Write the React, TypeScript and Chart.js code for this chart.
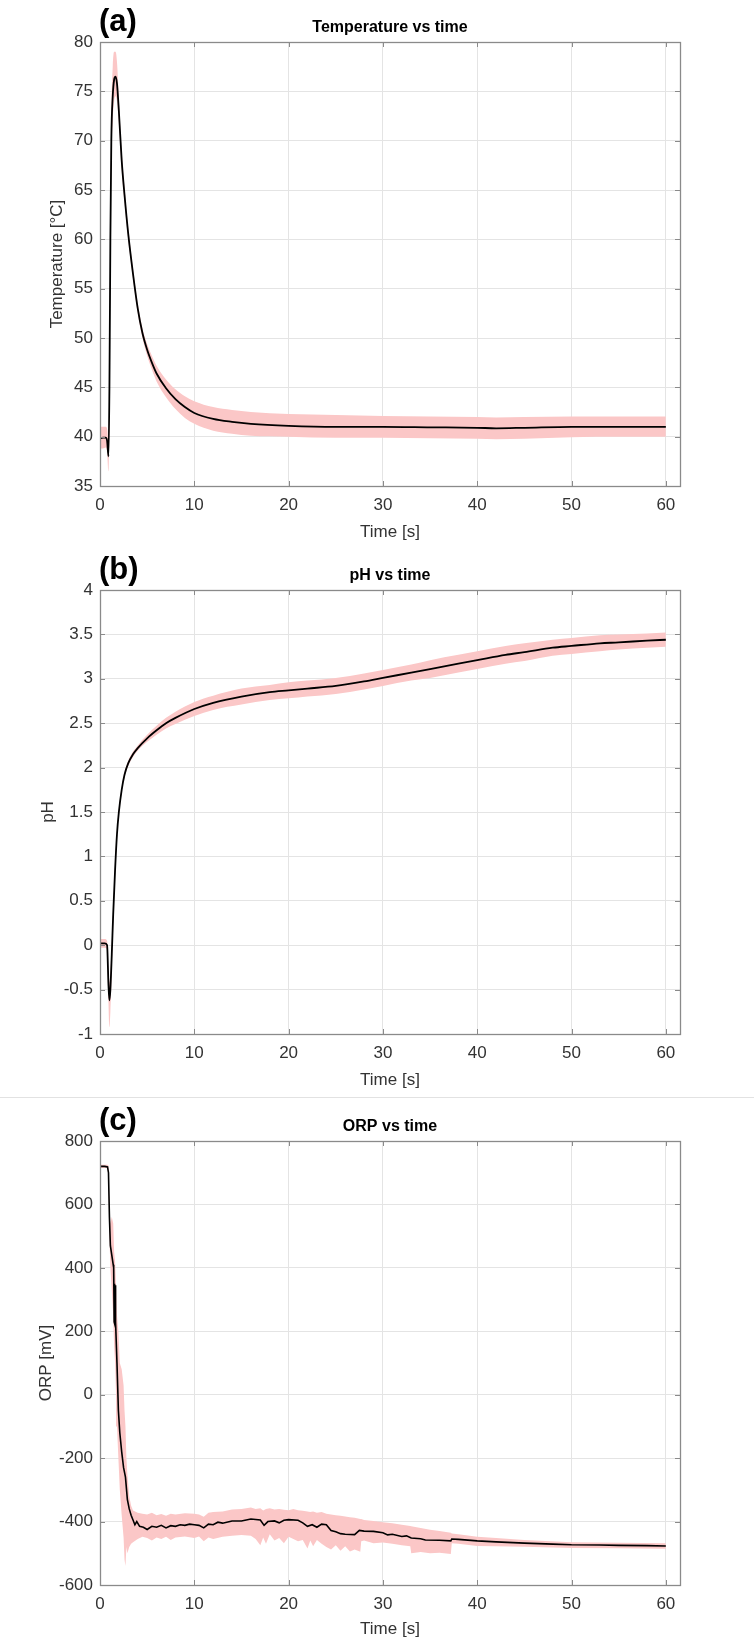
import React, { useEffect, useRef } from "react";
import { Chart, registerables } from "chart.js";

Chart.register(...registerables);

const FONT = '"Liberation Sans", Arial, Helvetica, sans-serif';
const BAND = "#fbc7c7";
const TEXT = "#333333";

// ---------- shared x axis ----------
const xTicks = [0, 10, 20, 30, 40, 50, 60];
const xMax = 61.5;

// ---------- (a) temperature ----------
const tempTicks = [35, 40, 45, 50, 55, 60, 65, 70, 75, 80];
const tempTime = [0, 0.3, 0.6, 0.75, 0.9, 1.0, 1.1, 1.2, 1.35, 1.5, 1.65, 1.8, 2.0, 2.3, 2.6, 3.0, 3.5, 4.0, 4.5, 5.0, 5.5, 6, 7, 8, 9, 10, 12, 14, 16, 20, 25, 30, 35, 40, 42, 45, 50, 55, 60];
const tempMean = [39.8, 39.9, 39.9, 39.6, 38.0, 45, 60, 70, 74.5, 76.2, 76.5, 75.8, 73, 68, 64.5, 60.5, 56.5, 53, 50.5, 48.8, 47.5, 46.4, 44.9, 43.8, 43.0, 42.4, 41.8, 41.5, 41.3, 41.1, 41.0, 41.0, 40.95, 40.9, 40.85, 40.9, 41.0, 41.0, 41.0];
const tempUpper = [41.0, 41.0, 41.0, 40.8, 39.3, 46.5, 62, 72.5, 77.5, 79.0, 79.0, 78.0, 74.2, 69, 65.3, 61.1, 57.0, 53.5, 51.0, 49.4, 48.2, 47.2, 45.8, 44.8, 44.1, 43.6, 43.0, 42.7, 42.5, 42.3, 42.2, 42.1, 42.05, 42.0, 41.95, 42.0, 42.05, 42.05, 42.05];
const tempLower = [38.8, 38.8, 38.9, 38.5, 36.5, 42.5, 57.5, 67.5, 72, 74, 74.5, 74, 71.8, 67, 63.7, 59.9, 56.0, 52.5, 50.0, 48.2, 46.8, 45.6, 44.0, 42.8, 41.9, 41.3, 40.6, 40.3, 40.1, 40.0, 39.9, 39.9, 39.85, 39.8, 39.75, 39.8, 39.95, 40.0, 40.0];

// ---------- (b) pH ----------
const phTicks = [-1, -0.5, 0, 0.5, 1, 1.5, 2, 2.5, 3, 3.5, 4];
const phTime = [0, 0.5, 0.75, 0.9, 1.0, 1.1, 1.25, 1.4, 1.6, 1.8, 2.0, 2.3, 2.6, 3.0, 3.5, 4, 5, 6, 7, 8, 10, 12, 15, 18, 20, 22, 25, 28, 30, 33, 35, 38, 40, 43, 45, 48, 50, 53, 55, 58, 60];
const phMean = [0.02, 0.02, 0.0, -0.45, -0.62, -0.5, -0.1, 0.35, 0.85, 1.25, 1.5, 1.75, 1.92, 2.05, 2.15, 2.22, 2.33, 2.42, 2.5, 2.56, 2.66, 2.73, 2.8, 2.85, 2.87, 2.89, 2.92, 2.97, 3.01, 3.07, 3.11, 3.17, 3.21, 3.27, 3.3, 3.35, 3.37, 3.4, 3.41, 3.43, 3.44];
const phUpper = [0.07, 0.07, 0.05, -0.3, -0.42, -0.3, 0.02, 0.42, 0.9, 1.29, 1.53, 1.78, 1.95, 2.08, 2.18, 2.25, 2.37, 2.47, 2.56, 2.63, 2.74, 2.81, 2.89, 2.93, 2.96, 2.98, 3.01, 3.06, 3.1, 3.16, 3.21, 3.27, 3.31, 3.37, 3.4, 3.44, 3.46, 3.49, 3.5, 3.51, 3.52];
const phLower = [-0.03, -0.03, -0.05, -0.65, -0.92, -0.75, -0.3, 0.25, 0.78, 1.2, 1.46, 1.72, 1.89, 2.02, 2.12, 2.19, 2.29, 2.37, 2.44, 2.49, 2.58, 2.65, 2.71, 2.76, 2.78, 2.8, 2.83, 2.88, 2.92, 2.98, 3.01, 3.07, 3.11, 3.17, 3.2, 3.26, 3.28, 3.31, 3.33, 3.35, 3.36];

// ---------- (c) ORP ----------
const orpTicks = [-600, -400, -200, 0, 200, 400, 600, 800];
const orpTime = [0, 0.5, 0.8, 0.9, 1.0, 1.1, 1.25, 1.4, 1.45, 1.5, 1.53, 1.56, 1.6, 1.65, 1.8, 1.95, 2.1, 2.3, 2.5, 2.7, 2.9, 3.1, 3.3, 3.5, 3.7, 3.9, 4.2, 4.6, 5.0, 5.5, 6, 6.5, 7, 7.5, 8, 8.5, 9, 9.5, 10, 10.5, 11, 11.5, 12, 12.5, 13, 14, 15, 16, 17, 17.4, 17.8, 18.5, 19, 19.5, 20, 21, 21.5, 22, 22.5, 23, 23.5, 24, 24.5, 25, 25.5, 26, 27, 27.5, 28, 29, 30, 30.5, 31, 32, 32.5, 33, 34, 34.5, 36, 37.2, 37.3, 38, 40, 42, 45, 48, 50, 53, 55, 58, 60];
const orpMean = [720, 720, 718, 700, 560, 470, 440, 410, 400, 230, 350, 225, 345, 230, 100, -50, -120, -180, -230, -260, -330, -360, -380, -395, -410, -400, -415, -418, -425, -415, -418, -412, -420, -413, -415, -410, -412, -408, -410, -412, -420, -408, -410, -402, -405, -398, -398, -392, -395, -412, -400, -398, -404, -396, -394, -396, -404, -415, -410, -418, -408, -410, -428, -432, -438, -440, -441, -428, -430, -431, -435, -442, -440, -447, -445, -452, -454, -458, -459, -461, -455, -456, -461, -464, -468, -471, -473, -474, -475, -476, -477];
const orpBandTime = [0, 0.8, 0.9, 1.0, 1.1, 1.25, 1.4, 1.5, 1.6, 1.7, 1.8, 1.95, 2.1, 2.3, 2.5, 2.6, 2.7, 2.8, 2.9, 3.1, 3.3, 3.5,
  4, 4.5, 5, 5.5, 6, 6.5, 7, 7.5, 8, 9, 10, 10.5, 11, 11.5, 12, 13, 14, 15, 16, 16.5, 17, 17.3, 17.6, 18, 18.5, 19, 19.5, 20, 20.5, 21,
  21.5, 22, 22.3, 22.6, 23, 23.5, 24, 24.5, 25, 25.5, 26, 26.5, 27, 27.6, 27.7, 28, 29, 30, 31, 32, 32.9, 33, 34, 35, 36, 37.2, 37.3, 38, 40, 42,
  45, 50, 55, 60];
const orpUpper = [725, 725, 722, 600, 540, 560, 540, 450, 420, 350, 250, 200, 100, 80, 30, -50, -100, -200, -250, -320, -350, -365,
  -372, -375, -378, -372, -380, -376, -382, -375, -378, -374, -375, -378, -385, -372, -370, -368, -362, -360, -356, -360, -358, -365, -360, -358, -362, -360, -363, -364, -360, -364,
  -366, -368, -370, -368, -372, -370, -375, -378, -380, -382, -384, -386, -388, -392, -392, -395, -398, -402, -405, -410, -414, -415, -420, -426, -430, -435, -438, -440, -448, -452,
  -458, -465, -467, -468];
const orpLower = [715, 715, 680, 500, 400, 330, 250, 150, 100, 0, -100, -200, -300, -380, -450, -520, -540, -480, -500, -480, -470, -465,
  -455, -448, -452, -460, -450, -455, -448, -458, -450, -447, -452, -447, -462, -450, -455, -448, -445, -442, -445, -455, -475, -450, -470, -440, -460, -452, -468, -448, -455, -462,
  -458, -485, -460, -478, -458, -470, -480, -488, -475, -492, -478, -494, -488, -495, -462, -460, -468, -466, -470, -475, -478, -500, -496, -500, -498, -502, -468, -470, -477, -478,
  -479, -483, -484, -486];

const pts = (xs: number[], ys: number[]) => xs.map((x, i) => ({ x, y: ys[i] }));

const boxPlugin = {
  id: "box",
  afterDraw(chart: any, _args: any, opts: any) {
    const { ctx, chartArea: a, scales } = chart;
    ctx.save();
    ctx.strokeStyle = "#8a8a8a";
    ctx.lineWidth = 1;
    const tl = 5;
    scales.x.ticks.forEach((t: any) => {
      const px = Math.round(scales.x.getPixelForValue(t.value)) + 0.5;
      ctx.beginPath();
      ctx.moveTo(px, a.bottom);
      ctx.lineTo(px, a.bottom - tl);
      ctx.moveTo(px, a.top);
      ctx.lineTo(px, a.top + tl);
      ctx.stroke();
    });
    scales.y.ticks.forEach((t: any) => {
      const py = Math.round(scales.y.getPixelForValue(t.value)) + 0.5;
      ctx.beginPath();
      ctx.moveTo(a.left, py);
      ctx.lineTo(a.left + tl, py);
      ctx.moveTo(a.right, py);
      ctx.lineTo(a.right - tl, py);
      ctx.stroke();
    });
    ctx.lineWidth = 1.3;
    ctx.strokeRect(Math.round(a.left) + 0.5, Math.round(a.top) + 0.5, Math.round(a.right - a.left), Math.round(a.bottom - a.top));
    ctx.fillStyle = "#000";
    ctx.textBaseline = "middle";
    ctx.textAlign = "center";
    ctx.font = `bold 16px ${FONT}`;
    ctx.fillText(opts.title, (a.left + a.right) / 2, a.top - 14);
    ctx.textAlign = "left";
    ctx.font = `bold 31px ${FONT}`;
    ctx.fillText(opts.label, a.left - 1, a.top - 20);
    ctx.restore();
  },
};

type PanelSpec = {
  height: number;
  yTicks: number[];
  yMin: number;
  yMax: number;
  yTitle: string;
  yTitlePad: number;
  title: string;
  label: string;
  time: number[];
  mean: number[];
  bandTime: number[];
  upper: number[];
  lower: number[];
  smooth: boolean;
  lineWidth: number;
};

function buildConfig(p: PanelSpec): any {
  const common = { pointRadius: 0, pointHoverRadius: 0 };
  const interp = p.smooth ? { cubicInterpolationMode: "monotone" } : { tension: 0 };
  return {
    type: "line",
    data: {
      datasets: [
        {
          data: pts(p.bandTime, p.upper),
          borderWidth: 0,
          borderColor: "rgba(0,0,0,0)",
          backgroundColor: BAND,
          fill: "+1",
          order: 2,
          ...common,
          ...interp,
        },
        {
          data: pts(p.bandTime, p.lower),
          borderWidth: 0,
          borderColor: "rgba(0,0,0,0)",
          backgroundColor: BAND,
          fill: false,
          order: 3,
          ...common,
          ...interp,
        },
        {
          data: pts(p.time, p.mean),
          borderColor: "#000",
          borderWidth: p.lineWidth,
          fill: false,
          order: 0,
          ...common,
          ...interp,
        },
      ],
    },
    options: {
      animation: false,
      responsive: false,
      devicePixelRatio: 1,
      events: [],
      layout: { padding: { left: 0, top: 42, right: 74, bottom: 0 } },
      plugins: {
        legend: { display: false },
        tooltip: { enabled: false },
        title: { display: false },
        box: { title: p.title, label: p.label },
      },
      scales: {
        x: {
          type: "linear",
          min: 0,
          max: xMax,
          afterBuildTicks: (s: any) => {
            s.ticks = xTicks.map((v) => ({ value: v }));
          },
          afterFit: (s: any) => {
            s.height = p.height - 486;
          },
          ticks: {
            padding: 9,
            color: TEXT,
            maxRotation: 0,
            autoSkip: false,
            font: { family: FONT, size: 17 },
            callback: (v: any) => String(v),
          },
          grid: { color: "#e4e4e4", drawTicks: false, lineWidth: 1 },
          border: { display: false },
          title: {
            display: true,
            text: "Time [s]",
            color: TEXT,
            font: { family: FONT, size: 17 },
            padding: { top: 0, bottom: 5 },
          },
        },
        y: {
          type: "linear",
          min: p.yMin,
          max: p.yMax,
          afterBuildTicks: (s: any) => {
            s.ticks = p.yTicks.map((v) => ({ value: v }));
          },
          afterFit: (s: any) => {
            s.width = 100;
          },
          ticks: {
            padding: 7,
            color: TEXT,
            autoSkip: false,
            font: { family: FONT, size: 17 },
            callback: (v: any) => String(v),
          },
          grid: { color: "#e4e4e4", drawTicks: false, lineWidth: 1 },
          border: { display: false },
          title: {
            display: true,
            text: p.yTitle,
            color: TEXT,
            font: { family: FONT, size: 17 },
            padding: { top: p.yTitlePad, bottom: 0 },
          },
        },
      },
    },
    plugins: [boxPlugin],
  };
}

function Panel({ top, spec }: { top: number; spec: PanelSpec }) {
  const ref = useRef<HTMLCanvasElement | null>(null);
  useEffect(() => {
    if (!ref.current) return;
    const chart = new Chart(ref.current, buildConfig(spec));
    return () => chart.destroy();
  }, []);
  return (
    <canvas
      ref={ref}
      width={754}
      height={spec.height}
      style={{ position: "absolute", left: 0, top, width: 754, height: spec.height, display: "block" }}
    />
  );
}

const panelA: PanelSpec = {
  height: 548,
  yTicks: tempTicks,
  yMin: 35,
  yMax: 80,
  yTitle: "Temperature [°C]",
  yTitlePad: 47,
  title: "Temperature vs time",
  label: "(a)",
  time: tempTime,
  mean: tempMean,
  bandTime: tempTime,
  upper: tempUpper,
  lower: tempLower,
  smooth: true,
  lineWidth: 1.8,
};

const panelB: PanelSpec = {
  height: 548,
  yTicks: phTicks,
  yMin: -1,
  yMax: 4,
  yTitle: "pH",
  yTitlePad: 38,
  title: "pH vs time",
  label: "(b)",
  time: phTime,
  mean: phMean,
  bandTime: phTime,
  upper: phUpper,
  lower: phLower,
  smooth: true,
  lineWidth: 1.8,
};

const panelC: PanelSpec = {
  height: 546,
  yTicks: orpTicks,
  yMin: -600,
  yMax: 800,
  yTitle: "ORP [mV]",
  yTitlePad: 36,
  title: "ORP vs time",
  label: "(c)",
  time: orpTime,
  mean: orpMean,
  bandTime: orpBandTime,
  upper: orpUpper,
  lower: orpLower,
  smooth: false,
  lineWidth: 1.6,
};

export default function App() {
  return (
    <div style={{ position: "absolute", left: 0, top: 0, width: 754, height: 1645, background: "#fff" }}>
      <Panel top={0} spec={panelA} />
      <Panel top={548} spec={panelB} />
      <div style={{ position: "absolute", left: 0, top: 1097, width: 754, height: 1, background: "#e2e2e2" }} />
      <Panel top={1099} spec={panelC} />
    </div>
  );
}
